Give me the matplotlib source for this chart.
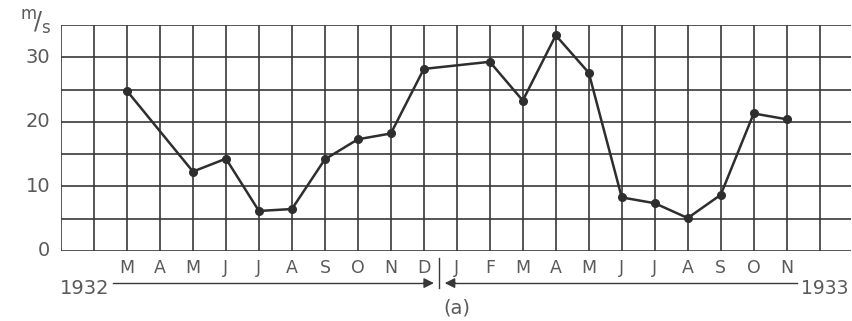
import numpy as np
import matplotlib.pyplot as plt
import matplotlib.transforms as mtransforms

# месяцы: 0 = январь 1932
months = [2, 4, 5, 6, 7, 8, 9, 10, 11, 13, 14, 15, 16, 17, 18, 19, 20, 21, 22]
speed = [24.8, 12.3, 14.3, 6.2, 6.5, 14.2, 17.3, 18.2, 28.2,
         29.3, 23.3, 33.4, 27.6, 8.3, 7.4, 5.1, 8.7, 21.3, 20.4]

tick_pos = list(range(2, 23))
tick_labels = ['M', 'A', 'M', 'J', 'J', 'A', 'S', 'O', 'N', 'D',
               'J', 'F', 'M', 'A', 'M', 'J', 'J', 'A', 'S', 'O', 'N']
y_ticks = [0, 10, 20, 30]

ink = '#383838'
txt = '#5a5a5a'

fig = plt.figure(figsize=(8.53, 3.21), dpi=100)
ax = fig.add_axes([61 / 853, 1 - 251 / 321, 790 / 853, 226 / 321])

ax.set_xlim(0, 23.95)
ax.set_ylim(0, 35)

# сетка
for xv in range(0, 24):
    ax.axvline(xv, color=ink, lw=1.2, zorder=1)
for yv in range(0, 36, 5):
    ax.axhline(yv, color=ink, lw=1.2, zorder=1)

ax.plot(months, speed, color='#2e2e2e', lw=1.8, marker='o', ms=5.5, zorder=3)

for s in ax.spines.values():
    s.set_visible(False)
ax.set_xticks([])
ax.set_yticks([])

for yv in y_ticks:
    ax.text(-0.33, yv, str(yv), ha='right', va='center', fontsize=14, color=txt)
ax.text(-0.3, 35.4, r'$^{\mathrm{m}}\!/_{\mathrm{s}}$', ha='right', va='center',
        fontsize=17, color=txt)

trans = mtransforms.blended_transform_factory(ax.transData, ax.transAxes)
for xp, lab in zip(tick_pos, tick_labels):
    ax.text(xp, -0.075, lab, ha='center', va='center', fontsize=12.5, color=txt,
            transform=trans)

# стрелки годов
ax.plot([1.58, 11.2], [-0.142, -0.142], color=ink, lw=1.0, transform=trans, clip_on=False)
ax.annotate('', xy=(11.39, -0.142), xytext=(10.9, -0.142), xycoords=trans, textcoords=trans,
            arrowprops=dict(arrowstyle='-|>', color=ink, lw=1.0, mutation_scale=15))
ax.plot([11.75, 22.3], [-0.142, -0.142], color=ink, lw=1.0, transform=trans, clip_on=False)
ax.annotate('', xy=(11.55, -0.142), xytext=(12.05, -0.142), xycoords=trans, textcoords=trans,
            arrowprops=dict(arrowstyle='-|>', color=ink, lw=1.0, mutation_scale=15))
ax.plot([11.47, 11.47], [-0.031, -0.164], color=ink, lw=1.0, transform=trans, clip_on=False)

ax.text(0.72, -0.165, '1932', ha='center', va='center', fontsize=14, color=txt, transform=trans)
ax.text(22.42, -0.165, '1933', ha='left', va='center', fontsize=13.5, color=txt, transform=trans)
ax.text(12.0, -0.25, '(a)', ha='center', va='center', fontsize=14, color=txt, transform=trans)

plt.savefig('out.png', dpi=100)
